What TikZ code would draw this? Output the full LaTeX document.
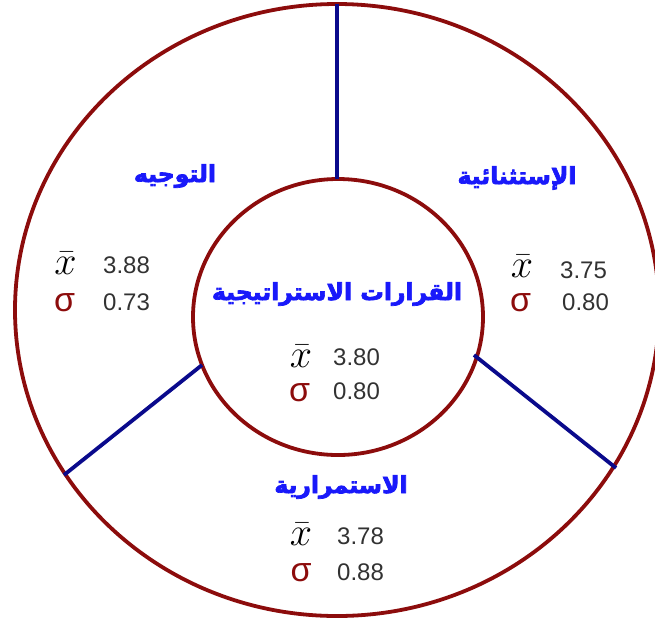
\documentclass[tikz,border=0pt]{standalone}
\usepackage{fix-cm}
\usepackage{fontspec}
\setmainfont{Liberation Sans}
\newfontfamily\arabicfont[Script=Arabic,BoldFeatures={FakeBold=3}]{DejaVu Sans}
\TeXXeTstate=1

\definecolor{ringred}{RGB}{140,12,12}
\definecolor{linenavy}{RGB}{10,10,140}
\definecolor{titleblue}{RGB}{25,25,250}
\definecolor{numgray}{RGB}{50,50,50}

\begin{document}
\begin{tikzpicture}[x=1pt,y=-1pt]
        \tikzset{every node/.style = {inner sep=0pt}}
        \tikzset{title/.style = {text=titleblue, font=\arabicfont\bfseries\fontsize{23.5}{26}\selectfont}}
        \tikzset{val/.style = {anchor=west, text=numgray, font=\fontsize{24}{26}\selectfont}}
        \tikzset{mean/.style = {font=\fontsize{40}{42}\selectfont}}
        \tikzset{sd/.style = {text=ringred, font=\fontsize{34}{36}\selectfont}}
        \tikzset{ring/.style = {draw=ringred, line width=3.8pt}}
        \tikzset{divider/.style = {draw=linenavy, line width=3.8pt}}

        \useasboundingbox (0,0) rectangle (655,622);

        \draw[ring] (337,310) ellipse [x radius=322, y radius=306];
        \draw[ring] (338,317) ellipse [x radius=145, y radius=138];

        \coordinate (o1) at (337,4);
        \coordinate (i1) at (337,179);
        \coordinate (o2) at (64,475);
        \coordinate (i2) at (202,365);
        \coordinate (o3) at (616,468);
        \coordinate (i3) at (474,355);

        \draw[divider] (o1) -- (i1);
        \draw[divider] (o2) -- (i2);
        \draw[divider] (o3) -- (i3);

        \node[title] (tl) at (175,176) {\beginR التوجيه\endR};
        \node[title] (tr) at (517,178) {\beginR الإستثنائية\endR};
        \node[title] (tc) at (337,294) {\beginR القرارات الاستراتيجية\endR};
        \node[title] (tb) at (341,487) {\beginR الاستمرارية\endR};

        \node[mean] (xl) at (65.5,263) {$\bar{x}$};
        \node[val] (ml) at (103,265.5) {3.88};
        \node[sd] (sl) at (64.5,302.5) {σ};
        \node[val] (dl) at (103,302) {0.73};

        \node[mean] (xr) at (522,266) {$\bar{x}$};
        \node[val] (mr) at (560,270) {3.75};
        \node[sd] (sr) at (520.5,303) {σ};
        \node[val] (dr) at (562,302.5) {0.80};

        \node[mean] (xc) at (301,356) {$\bar{x}$};
        \node[val] (mc) at (333,357.5) {3.80};
        \node[sd] (sc) at (299.5,393) {σ};
        \node[val] (dc) at (333,391.5) {0.80};

        \node[mean] (xb) at (301,534.5) {$\bar{x}$};
        \node[val] (mb) at (337,536.5) {3.78};
        \node[sd] (sb) at (301,572.5) {σ};
        \node[val] (db) at (337,572) {0.88};

    \end{tikzpicture}
\end{document}
